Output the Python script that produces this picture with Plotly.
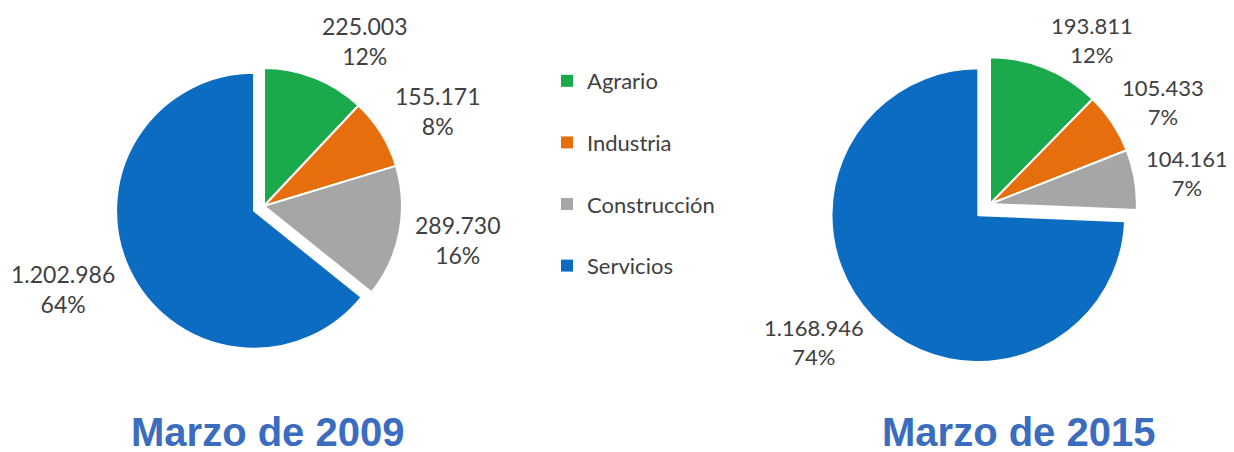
import math
import plotly.graph_objects as go

categories = ["Agrario", "Industria", "Construcción", "Servicios"]
values_2009 = [225003, 155171, 289730, 1202986]
pct_2009 = ["12%", "8%", "16%", "64%"]
values_2015 = [193811, 105433, 104161, 1168946]
pct_2015 = ["12%", "7%", "7%", "74%"]
titles = ["Marzo de 2009", "Marzo de 2015"]
colors = ["#1BAA4B", "#E66E0D", "#A6A6A6", "#0B6CC1"]

W, H = 1234, 452
OFF = 8  # page offset of the plot div


def fx(x):
    return (x - OFF) / W


def fy(y):
    return 1 - (y - OFF) / H


# layout of each pie (screen pixels): centre, box size, pulls, label gap, label size
pies = [
    dict(values=values_2009, pct=pct_2009, cx=264, cy=206, box=298,
         pull=[0, 0, 0, 0.08], gap=14, fs=23),
    dict(values=values_2015, pct=pct_2015, cx=990, cy=204, box=326,
         pull=[0, 0, 0, 0.11], gap=9, fs=22),
]

fig = go.Figure()

for p in pies:
    half = p["box"] / 2
    dom = dict(x=[fx(p["cx"] - half), fx(p["cx"] + half)],
               y=[fy(p["cy"] + half), fy(p["cy"] - half)])
    fig.add_trace(go.Pie(
        labels=categories, values=p["values"],
        textinfo="none", sort=False, direction="clockwise", rotation=0,
        pull=p["pull"], automargin=False,
        marker=dict(colors=colors, line=dict(color="white", width=2)),
        showlegend=False, domain=dom, hoverinfo="label+value+percent",
    ))
    # data labels placed outside the slices, along each slice's mid angle
    r = p["box"] / (2 * (1 + max(p["pull"])))
    total = sum(p["values"])
    box_half = p["fs"] * 1.3 + 2
    cum = 0
    for v, pc, pl in zip(p["values"], p["pct"], p["pull"]):
        th = 2 * math.pi * (cum + v / 2) / total
        cum += v
        s, c = math.sin(th), math.cos(th)
        ox = p["cx"] + pl * r * s
        oy = p["cy"] - pl * r * c
        ax = ox + (r + p["gap"]) * s
        ay = oy - (r + p["gap"]) * c - 28 * c
        ay = max(ay, OFF + 1 + box_half)  # keep the label box inside the page
        xa = "left" if s > 0.1 else ("right" if s < -0.1 else "center")
        txt = f"{v:,}".replace(",", ".") + "<br>" + pc
        fig.add_annotation(
            text=txt, x=fx(ax), y=fy(ay), xref="paper", yref="paper",
            xanchor=xa, yanchor="middle", align="center", showarrow=False,
            font=dict(family="Lato, 'Open Sans', sans-serif", size=p["fs"], color="#404040"),
        )

# legend entries
for i, (cat, col) in enumerate(zip(categories, colors)):
    fig.add_trace(go.Scatter(
        x=[None], y=[None], mode="markers", name=cat,
        marker=dict(symbol="square", size=9, color=col),
        legendgroup=f"g{i}", showlegend=True,
    ))

for t, xc in zip(titles, [267, 1019]):
    fig.add_annotation(
        text=t, x=fx(xc), y=fy(432), xref="paper", yref="paper",
        xanchor="center", yanchor="middle", showarrow=False,
        font=dict(family="Liberation Sans, Arial, sans-serif", size=40, color="#3A6CC0", weight="bold"),
    )

fig.update_layout(
    width=W, height=H,
    margin=dict(l=0, r=0, t=0, b=0, autoexpand=False),
    paper_bgcolor="white", plot_bgcolor="white",
    xaxis=dict(visible=False), yaxis=dict(visible=False),
    legend=dict(
        x=fx(547), y=fy(60), xanchor="left", yanchor="top",
        font=dict(family="Lato, 'Open Sans', sans-serif", size=22, color="#404040"),
        tracegroupgap=30, itemsizing="constant", bgcolor="rgba(0,0,0,0)",
    ),
)

fig.write_html("out.html")
